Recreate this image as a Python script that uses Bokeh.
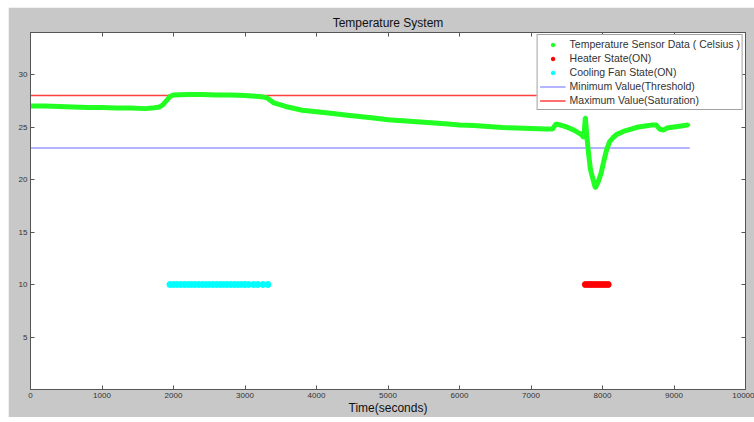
from bokeh.plotting import figure
from bokeh.models import Range1d, FixedTicker, LinearAxis, Legend, LegendItem, CustomJSTickFormatter
from bokeh.embed import file_html
from bokeh.resources import INLINE

# ---- data ----
time_s = [0, 200, 400, 600, 800, 1000, 1200, 1400, 1600, 1700, 1800, 1850, 1900, 1950,
          2000, 2200, 2400, 2600, 2800, 3000, 3200, 3300, 3400, 3500, 3600, 3800, 4000,
          4200, 4400, 4600, 4800, 5000, 5200, 5400, 5600, 5800, 6000, 6200, 6400, 6600,
          6800, 7000, 7200, 7300, 7350, 7400, 7450, 7500, 7600, 7700, 7740, 7760, 7780,
          7800, 7830, 7860, 7900, 7940, 7980, 8020, 8060, 8100, 8150, 8200, 8300, 8400,
          8500, 8600, 8700, 8750, 8800, 8850, 8900, 9000, 9100, 9200]
temp_c = [27.0, 27.0, 26.95, 26.9, 26.85, 26.85, 26.8, 26.8, 26.75, 26.8, 26.9, 27.1, 27.5, 27.9,
          28.05, 28.1, 28.1, 28.05, 28.05, 28.0, 27.9, 27.8, 27.3, 27.1, 26.9, 26.6, 26.45,
          26.3, 26.15, 26.0, 25.85, 25.7, 25.6, 25.5, 25.4, 25.3, 25.2, 25.15, 25.05, 24.95,
          24.9, 24.85, 24.8, 24.8, 25.3, 25.2, 25.1, 25.0, 24.7, 24.3, 24.0, 25.9, 24.2,
          22.8, 21.0, 20.2, 19.2, 19.8, 20.6, 21.8, 22.9, 23.6, 24.0, 24.3, 24.6, 24.8,
          25.0, 25.1, 25.2, 25.2, 24.8, 24.7, 24.9, 25.0, 25.1, 25.2]

fan_times = [1950, 2000, 2050, 2100, 2150, 2200, 2250, 2300, 2350, 2400, 2450, 2500, 2550,
             2600, 2650, 2700, 2750, 2800, 2850, 2900, 2950, 3000, 3050, 3120, 3180, 3250, 3320]
fan_level = [10] * len(fan_times)

heater_times = [7760, 7800, 7840, 7880, 7920, 7960, 8000, 8040, 8080]
heater_level = [10] * len(heater_times)

limit_t = [0, 9220]
min_value = [23, 23]
max_value = [28, 28]

x_ticks = [0, 1000, 2000, 3000, 4000, 5000, 6000, 7000, 8000, 9000, 10000]
y_ticks = [5, 10, 15, 20, 25, 30]

FONT = "Liberation Sans"
GRAY = "#c8c8c8"

p = figure(width=746, height=410, output_backend="svg", toolbar_location=None,
           x_range=Range1d(0, 10000), y_range=Range1d(0, 34),
           min_border_left=22, min_border_right=9, min_border_top=25, min_border_bottom=26,
           background_fill_color="white", border_fill_color=GRAY,
           outline_line_color="#555555")
p.margin = (7, 0, 0, 8)
p.grid.visible = False

p.title.text = "Temperature System"
p.title.align = "center"
p.title.text_font = FONT
p.title.text_font_size = "12px"
p.title.text_font_style = "normal"
p.title.text_color = "#111111"
p.title.standoff = 5

for ax in [p.xaxis[0], p.yaxis[0]]:
    ax.major_tick_in = 4
    ax.major_tick_out = 0
    ax.minor_tick_line_color = None
    ax.major_label_text_font = FONT
    ax.major_label_text_font_size = "8px"
    ax.major_label_text_color = "#333333"
    ax.major_label_standoff = 3
    ax.axis_line_color = "#555555"
    ax.major_tick_line_color = "#555555"

p.xaxis[0].ticker = FixedTicker(ticks=x_ticks)
p.yaxis[0].ticker = FixedTicker(ticks=y_ticks)
p.xaxis[0].axis_label = "Time(seconds)"
p.xaxis[0].axis_label_text_font = FONT
p.xaxis[0].axis_label_text_font_size = "12px"
p.xaxis[0].axis_label_text_font_style = "normal"
p.xaxis[0].axis_label_text_color = "#111111"
p.xaxis[0].axis_label_standoff = 0

blank = CustomJSTickFormatter(code="return ''")
top = LinearAxis(ticker=FixedTicker(ticks=x_ticks), formatter=blank,
                 major_label_text_font_size="2px", major_label_text_alpha=0,
                 major_tick_in=4, major_tick_out=0, minor_tick_line_color=None,
                 major_label_standoff=0, axis_line_color="#555555", major_tick_line_color="#555555")
right = LinearAxis(ticker=FixedTicker(ticks=y_ticks), formatter=blank,
                   major_label_text_font_size="2px", major_label_text_alpha=0,
                   major_tick_in=4, major_tick_out=0, minor_tick_line_color=None,
                   major_label_standoff=0, axis_line_color="#555555", major_tick_line_color="#555555")
p.add_layout(top, "above")
p.add_layout(right, "right")

# threshold lines
r_min = p.line(limit_t, min_value, line_color="#6a6aff", line_width=1.2)
r_max = p.line(limit_t, max_value, line_color="#ff0000", line_width=1.6, line_alpha=0.75)

# sensor data
p.line(time_s, temp_c, line_color="#22ff22", line_width=5)
r_temp = p.scatter(time_s, temp_c, size=3, color="#22ff22")

p.scatter(fan_times, fan_level, size=6, color="#00ffff")
r_fan = p.scatter(fan_times, fan_level, size=4, color="#00ffff")
p.scatter(heater_times, heater_level, size=6, color="#ff0000")
r_heat = p.scatter(heater_times, heater_level, size=4, color="#ff0000")

legend = Legend(items=[
    LegendItem(label="Temperature Sensor Data ( Celsius )", renderers=[r_temp]),
    LegendItem(label="Heater State(ON)", renderers=[r_heat]),
    LegendItem(label="Cooling Fan State(ON)", renderers=[r_fan]),
    LegendItem(label="Minimum Value(Threshold)", renderers=[r_min]),
    LegendItem(label="Maximum Value(Saturation)", renderers=[r_max]),
], location="top_right")
legend.label_text_font = FONT
legend.label_text_font_size = "10.5px"
legend.label_text_color = "#333333"
legend.border_line_color = "#444444"
legend.background_fill_color = "white"
legend.background_fill_alpha = 1
legend.spacing = 0
legend.padding = 2
legend.margin = 2
legend.label_height = 14
legend.glyph_height = 9
legend.glyph_width = 26
legend.label_standoff = 4
p.add_layout(legend)

open("out.html", "w").write(file_html(p, INLINE))
